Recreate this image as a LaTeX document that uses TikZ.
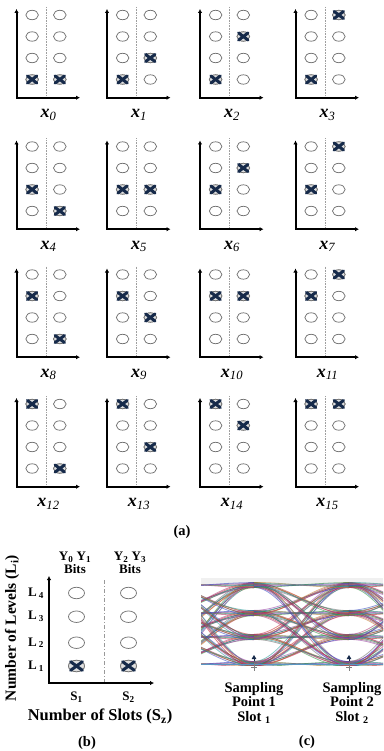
\documentclass[tikz,border=0pt]{standalone}
\usepackage{fontspec}
\setmainfont{Liberation Serif}
\usetikzlibrary{arrows.meta,shapes.geometric}
\definecolor{hitblue}{RGB}{22,42,74}
\definecolor{ringgray}{RGB}{115,115,115}
\definecolor{baseblue}{RGB}{90,150,195}
\definecolor{eye0}{RGB}{200,40,50}
\definecolor{eye1}{RGB}{40,140,60}
\definecolor{eye2}{RGB}{50,70,190}
\definecolor{eye3}{RGB}{150,60,160}
\definecolor{eye4}{RGB}{105,105,105}
\definecolor{eye5}{RGB}{30,150,150}
\definecolor{eye6}{RGB}{190,120,40}
\definecolor{eye7}{RGB}{170,50,110}
\tikzset{
	axes/.style={line width=2pt, line join=miter, {Latex[length=4pt,width=4.5pt]}-{Latex[length=4pt,width=4.5pt]}},
	ring/.style={draw=ringgray, line width=0.75pt, ellipse, inner sep=0pt, minimum width=12.6pt, minimum height=9.4pt},
	bigring/.style={ring, minimum width=16pt, minimum height=11.5pt},
	hitring/.style={fill=gray!25},
	hit/.style={draw=hitblue, line width=3pt, line cap=round},
	slotline/.style={draw=gray!75, densely dotted, line width=0.6pt},
	xlabel/.style={font=\fontsize{18}{18}\selectfont},
	caption/.style={font=\bfseries\fontsize{14.5}{14.5}\selectfont},
	small/.style={font=\bfseries\fontsize{13}{12.5}\selectfont, align=center},
	eyeline/.style={line width=0.8pt, opacity=0.55}
}
\begin{document}
\begin{tikzpicture}[x=1pt,y=-1pt]
	\useasboundingbox (0,0) rectangle (383,751);
	\foreach \n in {0,...,15} {
		\pgfmathtruncatemacro\row{int(\n/4)}
		\pgfmathtruncatemacro\col{mod(\n,4)}
		\pgfmathsetmacro\ax{{16.5,107,200,295.5}[\col]}
		\pgfmathsetmacro\ey{{15,146.5,274.5,404}[\row]}
		\coordinate (p\n-t) at (\ax,\ey-6);
		\coordinate (p\n-o) at (\ax,\ey+82.7);
		\coordinate (p\n-r) at (\ax+63.5,\ey+82.7);
		\coordinate (p\n-d) at (\ax+29.5,\ey-8);
		\coordinate (p\n-e) at (\ax+29.5,\ey+82.7);
		\draw[slotline] (p\n-d) -- (p\n-e);
		\draw[axes] (p\n-t) -- (p\n-o) -- (p\n-r);
		\foreach \l in {0,...,3} {
			\node[ring] (p\n-a\l) at (\ax+15.6,\ey+64.5-21.5*\l) {};
			\node[ring] (p\n-b\l) at (\ax+43.3,\ey+64.5-21.5*\l) {};
		}
		\node[ring,hitring] (p\n-ha) at (p\n-a\row) {};
		\node[ring,hitring] (p\n-hb) at (p\n-b\col) {};
		\draw[hit] (p\n-ha.north west) -- (p\n-ha.south east) (p\n-ha.north east) -- (p\n-ha.south west);
		\draw[hit] (p\n-hb.north west) -- (p\n-hb.south east) (p\n-hb.north east) -- (p\n-hb.south west);
		\node[xlabel] (p\n-lab) at (\ax+32,\ey+100) {\textbf{\textit{x}}\textsubscript{\textit{\n}}};
	}
	\node[caption] (capa) at (182,532) {(a)};

	\coordinate (bt) at (49,576);
	\coordinate (bo) at (49,683);
	\coordinate (br) at (154,683);
	\coordinate (bd) at (104,580);
	\coordinate (be) at (104,683);
	\draw[gray!80, line width=0.6pt, dash pattern=on 4pt off 2pt on 1pt off 2pt] (bd) -- (be);
	\draw[axes] (bt) -- (bo) -- (br);
	\foreach \l/\y in {1/666,2/642.7,3/616.7,4/593} {
		\node[bigring] (s1-\l) at (76.5,\y) {};
		\node[bigring] (s2-\l) at (128.5,\y) {};
		\node[small] (lev\l) at (36,\y) {L\,\textsubscript{\l}};
	}
	\node[bigring,hitring] (s1-hit) at (s1-1) {};
	\node[bigring,hitring] (s2-hit) at (s2-1) {};
	\draw[hit] (s1-hit.north west) -- (s1-hit.south east) (s1-hit.north east) -- (s1-hit.south west);
	\draw[hit] (s2-hit.north west) -- (s2-hit.south east) (s2-hit.north east) -- (s2-hit.south west);
	\node[small] (bits1) at (75,563) {Y\textsubscript{0} Y\textsubscript{1}\\Bits};
	\node[small] (bits2) at (130,563) {Y\textsubscript{2} Y\textsubscript{3}\\Bits};
	\node[small] (slot1) at (76.5,697.5) {S\textsubscript{1}};
	\node[small] (slot2) at (128.5,697.5) {S\textsubscript{2}};
	\node[font=\bfseries\fontsize{16.5}{16.5}\selectfont] (slots) at (100,716.7) {Number of Slots (S\textsubscript{z})};
	\node[font=\bfseries\fontsize{15.5}{15.5}\selectfont, rotate=90] (levels) at (12,628) {Number of Levels (L\textsubscript{i})};
	\node[caption] (capb) at (87,743) {(b)};

	\begin{scope}
		\clip (201,578) rectangle (383,665.5);
		\fill[gray!12] (201,578) rectangle (383,584);
		\foreach \s in {159,254,349} {
			\foreach \a/\ya in {0/664,1/637,2/613,3/585} {
				\foreach \b/\yb in {0/664,1/637,2/613,3/585} {
					\foreach \k/\dy/\dx in {0/-2.6/-3,1/-1.6/2,2/-0.6/-1,3/0.4/3,4/1.4/0,5/2.4/-2} {
						\pgfmathtruncatemacro\ci{mod(\a*3+\b*5+\k*7+\s,8)}
						\draw[eyeline, draw=eye\ci] (\s,\ya+\dy) .. controls (\s+33+\dx,\ya+\dy) and (\s+62+\dx,\yb-\dy) .. (\s+95,\yb-\dy);
					}
				}
			}
		}
	\end{scope}
	\coordinate (bl) at (201,664.5);
	\coordinate (bb) at (383,664.5);
	\draw[baseblue, line width=1.2pt] (bl) -- (bb);
	\foreach \i/\x in {1/254,2/349} {
		\coordinate (sp\i) at (\x,661);
		\coordinate (sq\i) at (\x,655);
		\draw[hitblue, line width=0.8pt, -{Triangle[length=4pt,width=4.5pt]}] (sp\i) -- (sq\i);
		\draw[gray, line width=0.5pt] (\x,662.5) -- (\x,670.5) (\x-3,667) -- (\x+3,667);
	}
	\node[caption, align=center] (samp1) at (254,703) {Sampling\\Point 1\\Slot \textsubscript{1}};
	\node[caption, align=center] (samp2) at (352,703) {Sampling\\Point 2\\Slot \textsubscript{2}};
	\node[caption] (capc) at (307,742) {(c)};
\end{tikzpicture}
\end{document}
